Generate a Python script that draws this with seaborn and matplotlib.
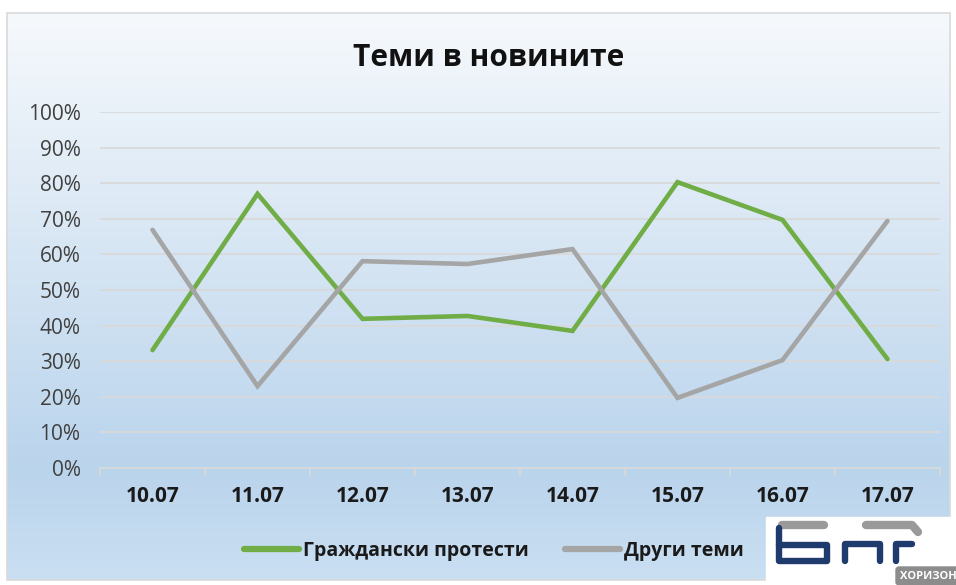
import numpy as np
import pandas as pd
import seaborn as sns
import matplotlib.pyplot as plt
from matplotlib.patches import Rectangle, FancyBboxPatch
from matplotlib.ticker import FuncFormatter

sns.set_theme(style='white')
plt.rcParams['font.family'] = ['Open Sans', 'DejaVu Sans']

# data
days = ['10.07', '11.07', '12.07', '13.07', '14.07', '15.07', '16.07', '17.07']
protests = [33.1, 77.0, 41.9, 42.7, 38.5, 80.3, 69.7, 30.6]
others = [66.9, 23.0, 58.1, 57.3, 61.5, 19.7, 30.3, 69.4]
series_names = ['Граждански протести', 'Други теми']
series_colors = ['#70AD47', '#A5A5A5']

df = pd.DataFrame({'day': days * 2,
                   'value': np.array(protests + others) / 100,
                   'series': [series_names[0]] * len(days) + [series_names[1]] * len(days)})

W, H = 956, 585
fig = plt.figure(figsize=(W / 100, H / 100), dpi=100)

# background panel with vertical gradient
bg = fig.add_axes([0, 0, 1, 1], zorder=-5)
bg.set_xlim(0, W)
bg.set_ylim(H, 0)
bg.axis('off')
ys = np.linspace(13, 580, 300)
stops_y = [13, 470, 580]
stops_c = np.array([[246, 249, 252], [186, 212, 236], [202, 223, 242]]) / 255
img = np.stack([np.interp(ys, stops_y, stops_c[:, k]) for k in range(3)], axis=-1)[:, None, :]
bg.imshow(img, extent=[7, 950, 580, 13], aspect='auto')
bg.add_patch(Rectangle((7, 13), 943, 567, fill=False, ec='#D9D9D9', lw=1.2))

ax = fig.add_axes([100 / W, 1 - 468 / H, 840 / W, 356 / H])
ax.patch.set_alpha(0)
sns.lineplot(data=df, x='day', y='value', hue='series', palette=series_colors,
             linewidth=3.3, ax=ax, legend=False, sort=False)
for ln in ax.lines:
    ln.set_solid_capstyle('round')
    ln.set_solid_joinstyle('miter')

ax.set_xlim(-0.5, len(days) - 0.5)
ax.set_ylim(0, 1)
ax.set_yticks(np.arange(0, 1.01, 0.1))
ax.yaxis.set_major_formatter(FuncFormatter(lambda v, p: f'{v * 100:.0f}%'))
ax.grid(axis='y', color='#D9D9D9', lw=1.3)
ax.grid(axis='x', visible=False)
for s in ['top', 'right', 'left']:
    ax.spines[s].set_visible(False)
ax.spines['bottom'].set_color('#D9D9D9')
ax.spines['bottom'].set_linewidth(1.3)
ax.set_xticks(np.arange(-0.5, len(days), 1), minor=True)
ax.tick_params(axis='x', which='minor', length=6, color='#D9D9D9', width=1.3, bottom=True)
ax.tick_params(axis='x', which='major', length=0, pad=13, labelsize=15)
ax.tick_params(axis='y', length=0, pad=14, labelsize=15, labelcolor='#404040')
for t in ax.get_xticklabels():
    t.set_fontweight('bold')
    t.set_color('#1a1a1a')
ax.set_xlabel('')
ax.set_ylabel('')

fig.text(489 / W, 1 - 58 / H, 'Теми в новините', ha='center', va='center',
         fontsize=21.5, fontweight='bold', color='#111111')

handles = [plt.Line2D([], [], color=c, lw=4.5) for c in series_colors]
leg = fig.legend(handles, series_names, loc='center', bbox_to_anchor=(494 / W, 1 - 551 / H),
                 ncol=2, frameon=False, handlelength=2.8, handletextpad=0.2, columnspacing=1.9,
                 prop={'size': 14, 'weight': 'bold'})
for t in leg.get_texts():
    t.set_color('#1a1a1a')

# BNR logo approximation in the corner
bg.add_patch(Rectangle((766, 517), 190, 68, color='white', zorder=3))
navy, grey = '#1F3B6E', '#9A9A9A'
logo = dict(solid_capstyle='round', solid_joinstyle='round', zorder=4)
bg.plot([782, 824], [525, 525], color=grey, lw=6, **logo)
bg.plot([779, 779, 827, 827, 779], [528, 561, 561, 545, 545], color=navy, lw=4.6, **logo)
bg.plot([845, 845, 880, 880], [561, 544, 544, 561], color=navy, lw=4.6, **logo)
bg.plot([866, 912, 918], [525, 525, 532], color=grey, lw=6, **logo)
bg.plot([896, 896, 912], [561, 544, 544], color=navy, lw=4.6, **logo)
bg.add_patch(FancyBboxPatch((896, 567), 70, 18, boxstyle='round,pad=0,rounding_size=3',
                            color='#8C8C8C', zorder=4))
bg.text(900, 576.5, 'ХОРИЗОН', fontsize=8, fontweight='bold', color='white',
        ha='left', va='center', zorder=5)

fig.savefig('out.png', dpi=100)
